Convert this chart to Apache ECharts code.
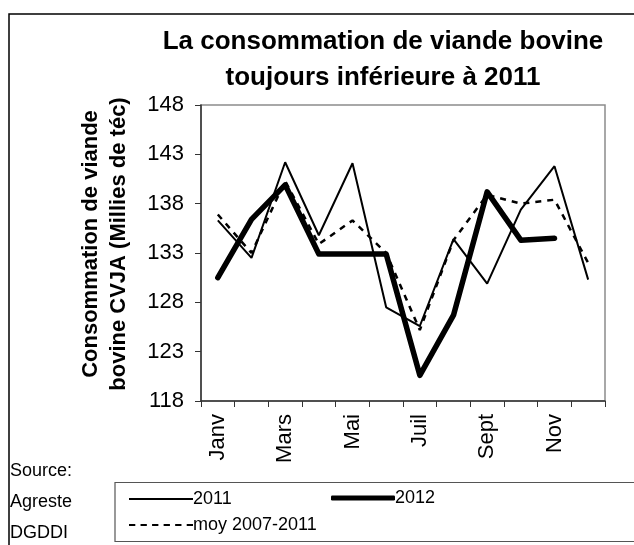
<!DOCTYPE html>
<html>
<head>
<meta charset="utf-8">
<script src="https://cdn.jsdelivr.net/npm/echarts@6/dist/echarts.min.js"></script>
<style>
  html, body { margin: 0; padding: 0; background: #fff; }
  #main { width: 634px; height: 545px; }
</style>
</head>
<body>
<div id="main"></div>
<script>
// months, one per category
var months = ["Janv", "Févr", "Mars", "Avr", "Mai", "Juin", "Juil", "Août", "Sept", "Oct", "Nov", "Déc"];
// consommation CVJA, milliers de téc
var conso2011 = [136.3, 132.5, 142.2, 134.8, 142.1, 127.5, 125.6, 134.4, 129.9, 137.4, 141.8, 130.3];
var conso2012 = [130.5, 136.4, 139.9, 132.9, 132.9, 132.9, 120.6, 126.7, 139.2, 134.3, 134.5, null];
var moy0711 = [136.9, 133.0, 140.3, 133.9, 136.3, 133.0, 125.2, 134.3, 138.9, 138.0, 138.4, 132.0];
var yMin = 118, yMax = 148, yStep = 5;

var font = "'Liberation Sans', Arial, sans-serif";
var chart = echarts.init(document.getElementById("main"));

// dashed line icon for the average
var dashIcon = "path://M0,0h6v2h-6z M11,0h6v2h-6z M22,0h6v2h-6z M33,0h6v2h-6z M44,0h6v2h-6z M55,0h6v2h-6z";

function legendAt(name, icon, h, left, top) {
  return {
    data: [{ name: name, icon: icon }],
    left: left,
    top: top,
    itemWidth: 64,
    itemHeight: h,
    symbolKeepAspect: false,
    textStyle: { fontFamily: font, fontSize: 18, color: "#000", padding: [0, 0, 0, -5] },
    selectedMode: false
  };
}

chart.setOption({
  animation: false,
  backgroundColor: "#fff",
  title: {
    text: "La consommation de viande bovine\ntoujours inférieure à 2011",
    left: 378,
    textAlign: "center",
    top: 19,
    textStyle: { fontFamily: font, fontSize: 26, fontWeight: "bold", color: "#000", lineHeight: 36 }
  },
  legend: [
    legendAt("2011", "rect", 2, 124, 485),
    legendAt("2012", "roundRect", 5, 326, 484),
    legendAt("moy 2007-2011", dashIcon, 2, 124, 511)
  ],
  grid: {
    left: 201, top: 105, right: 29, bottom: 144,
    show: true, borderColor: "#8c8c8c", borderWidth: 1.5,
    containLabel: false
  },
  xAxis: {
    type: "category",
    data: months,
    boundaryGap: true,
    axisLine: { lineStyle: { color: "#333", width: 1.5 } },
    axisTick: { show: true, interval: 0, length: 6, lineStyle: { color: "#333" } },
    axisLabel: {
      interval: 1, rotate: 90, margin: 13,
      fontFamily: font, fontSize: 22, color: "#000"
    },
    splitLine: { show: false }
  },
  yAxis: {
    type: "value",
    min: yMin, max: yMax, interval: yStep,
    name: "Consommation de viande\nbovine CVJA (Millies de téc)",
    nameLocation: "middle",
    nameGap: 68,
    nameTextStyle: { fontFamily: font, fontSize: 22, fontWeight: "bold", color: "#000", lineHeight: 28, padding: [0, 0, 0, 18] },
    axisLine: { show: true, lineStyle: { color: "#333", width: 1.5 } },
    axisTick: { show: true, length: 6, lineStyle: { color: "#333" } },
    axisLabel: { margin: 17, fontFamily: font, fontSize: 22, color: "#000" },
    splitLine: { show: false }
  },
  series: [
    {
      name: "2011", type: "line", data: conso2011,
      symbol: "none", z: 2,
      lineStyle: { color: "#000", width: 2 },
      itemStyle: { color: "#000" }
    },
    {
      name: "moy 2007-2011", type: "line", data: moy0711,
      symbol: "none", z: 3,
      lineStyle: { color: "#000", width: 2.5, type: [6, 6] },
      itemStyle: { color: "#000" }
    },
    {
      name: "2012", type: "line", data: conso2012,
      symbol: "none", z: 4,
      lineStyle: { color: "#000", width: 5.5, cap: "round", join: "round" },
      itemStyle: { color: "#000" }
    }
  ],
  graphic: [
    {
      type: "rect", silent: true, z: -1,
      shape: { x: 9, y: 14, width: 700, height: 600 },
      style: { fill: null, stroke: "#000", lineWidth: 1.5 }
    },
    {
      type: "rect", silent: true, z: -1,
      shape: { x: 115, y: 482.5, width: 600, height: 59 },
      style: { fill: null, stroke: "#555", lineWidth: 1.2 }
    },
    {
      type: "text", left: 10, top: 456,
      style: { text: "Source:\nAgreste\nDGDDI", fontFamily: font, fontSize: 18, lineHeight: 31, fill: "#000" }
    }
  ]
});
</script>
</body>
</html>
